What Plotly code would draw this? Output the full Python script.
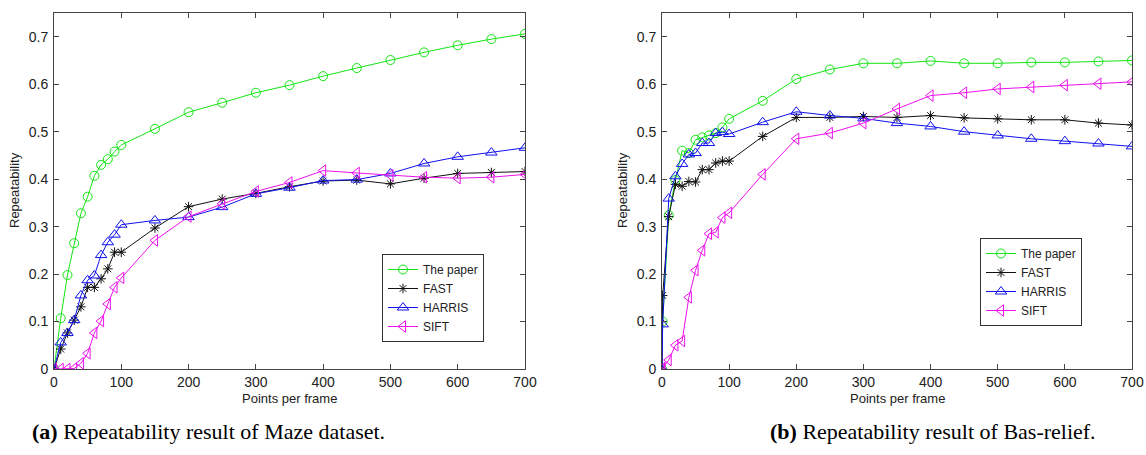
import plotly.graph_objects as go

# ---------------- data ----------------
x_maze = [0, 10, 20, 30, 40, 50, 60, 70, 80, 90, 100, 150, 200, 250, 300, 350,
          400, 450, 500, 550, 600, 650, 700]
maze_paper = [0, 0.107, 0.198, 0.265, 0.328, 0.363, 0.407, 0.430, 0.442, 0.458, 0.472,
              0.506, 0.541, 0.561, 0.582, 0.598, 0.617, 0.634, 0.651, 0.667, 0.682, 0.695, 0.706]
maze_fast = [0, 0.042, 0.076, 0.103, 0.131, 0.172, 0.172, 0.190, 0.211, 0.246, 0.246,
             0.297, 0.342, 0.358, 0.370, 0.384, 0.396, 0.398, 0.390, 0.402, 0.412, 0.414, 0.416]
maze_harris = [0, 0.056, 0.076, 0.103, 0.155, 0.187, 0.197, 0.240, 0.267, 0.283, 0.304,
               0.313, 0.320, 0.341, 0.369, 0.382, 0.397, 0.399, 0.412, 0.433, 0.447, 0.456, 0.466]
maze_sift = [0, 0, 0, 0.001, 0.012, 0.033, 0.076, 0.101, 0.137, 0.172, 0.192,
             0.271, 0.321, 0.348, 0.374, 0.393, 0.418, 0.413, 0.408, 0.404, 0.402, 0.404, 0.410]

x_bas = [0, 1, 10, 20, 30, 40, 50, 60, 70, 80, 90, 100, 150, 200, 250, 300, 350,
         400, 450, 500, 550, 600, 650, 700]
bas_paper = [0, 0.10, 0.324, 0.398, 0.460, 0.455, 0.483, 0.488, 0.492, 0.497, 0.509, 0.527,
             0.565, 0.611, 0.631, 0.644, 0.644, 0.649, 0.644, 0.644, 0.646, 0.646, 0.648, 0.650]
bas_fast = [0, 0.155, 0.321, 0.389, 0.385, 0.395, 0.394, 0.420, 0.420, 0.434, 0.438, 0.438,
            0.490, 0.530, 0.530, 0.532, 0.530, 0.534, 0.529, 0.527, 0.525, 0.525, 0.518, 0.514]
bas_harris = [0, 0.094, 0.359, 0.406, 0.432, 0.452, 0.455, 0.476, 0.476, 0.497, 0.499, 0.495,
              0.520, 0.542, 0.534, 0.528, 0.518, 0.511, 0.500, 0.492, 0.485, 0.480, 0.475, 0.469]
bas_sift = [0, 0.002, 0.019, 0.050, 0.059, 0.151, 0.208, 0.250, 0.285, 0.288, 0.319, 0.329,
            0.410, 0.485, 0.497, 0.518, 0.548, 0.576, 0.582, 0.590, 0.594, 0.598, 0.601, 0.605]

series_names = ["The paper", "FAST", "HARRIS", "SIFT"]
x_ticks = [0, 100, 200, 300, 400, 500, 600, 700]
y_ticks = [0, 0.1, 0.2, 0.3, 0.4, 0.5, 0.6, 0.7]
y_tick_text = ["0", "0.1", "0.2", "0.3", "0.4", "0.5", "0.6", "0.7"]
captions = ["<b>(a)</b> Repeatability result of Maze dataset.",
            "<b>(b)</b> Repeatability result of Bas-relief."]

# ---------------- styles ----------------
colors = ["#14e614", "#111111", "#1010ee", "#ee10ee"]
symbols = ["circle-open", "asterisk-open", "triangle-up-open", "triangle-left-open"]
msize = [9, 8, 10, 10]

fig = go.Figure()

panels = [
    (x_maze, [maze_paper, maze_fast, maze_harris, maze_sift], "x", "y", "legend"),
    (x_bas, [bas_paper, bas_fast, bas_harris, bas_sift], "x2", "y2", "legend2"),
]
for xs, ys_list, xa, ya, lg in panels:
    for i, ys in enumerate(ys_list):
        fig.add_trace(go.Scatter(
            x=xs, y=ys, mode="lines+markers", name=series_names[i],
            line=dict(color=colors[i], width=1),
            marker=dict(symbol=symbols[i], size=msize[i], color=colors[i],
                        line=dict(width=1, color=colors[i])),
            xaxis=xa, yaxis=ya, legend=lg,
        ))

# page body margin is removed by the post script: figure placed at (0, 0)
W, H = 1146, 455


def px(X):
    return X / W


def py(Y):
    return (H - Y) / H


SANS = "Liberation Sans, Arial, sans-serif"
font_ax = dict(family=SANS, size=14, color="#222222")

axis_common = dict(
    showgrid=False, zeroline=False, showline=True, linecolor="#444444", linewidth=1,
    mirror="ticks", ticks="inside", ticklen=5, tickcolor="#444444", tickwidth=1,
    tickfont=font_ax, automargin=False,
)

left_dom = [px(54), px(525)]
right_dom = [px(662), px(1132)]
y_dom = [py(369), py(13)]

leg_font = dict(family=SANS, size=12, color="#222222")
fig.update_layout(
    width=W, height=H, margin=dict(l=0, r=0, t=0, b=0),
    paper_bgcolor="white", plot_bgcolor="white",
    xaxis=dict(domain=left_dom, range=[0, 700], tickvals=x_ticks, anchor="y", **axis_common),
    yaxis=dict(domain=y_dom, range=[0, 0.75], tickvals=y_ticks, ticktext=y_tick_text,
               anchor="x", ticklabelstandoff=2, **axis_common),
    xaxis2=dict(domain=right_dom, range=[0, 700], tickvals=x_ticks, anchor="y2", **axis_common),
    yaxis2=dict(domain=y_dom, range=[0, 0.75], tickvals=y_ticks, ticktext=y_tick_text,
                anchor="x2", ticklabelstandoff=2, **axis_common),
    legend=dict(x=px(382), y=py(254), xanchor="left", yanchor="top",
                bgcolor="white", bordercolor="#333333", borderwidth=1,
                entrywidth=75, font=leg_font),
    legend2=dict(x=px(980), y=py(238), xanchor="left", yanchor="top",
                 bgcolor="white", bordercolor="#333333", borderwidth=1,
                 entrywidth=75, font=leg_font),
    showlegend=True,
)

ann = []
for cx, axis_x in [((54 + 525) / 2, 15), ((662 + 1132) / 2, 623)]:
    ann.append(dict(text="Points per frame", x=px(cx), y=py(398), xref="paper", yref="paper",
                    showarrow=False, font=dict(family=SANS, size=13, color="#222222"),
                    xanchor="center", yanchor="middle"))
    ann.append(dict(text="Repeatability", x=px(axis_x), y=py(190), xref="paper", yref="paper",
                    showarrow=False, textangle=-90,
                    font=dict(family=SANS, size=13, color="#222222"),
                    xanchor="center", yanchor="middle"))
cap_font = dict(family="Liberation Serif, Times New Roman, serif", size=22, color="#000000")
ann.append(dict(text=captions[0], x=px(208), y=py(431), xref="paper", yref="paper",
                showarrow=False, font=cap_font, xanchor="center", yanchor="middle"))
ann.append(dict(text=captions[1], x=px(933), y=py(431), xref="paper", yref="paper",
                showarrow=False, font=cap_font, xanchor="center", yanchor="middle"))
fig.update_layout(annotations=ann)

fig.write_html(
    "out.html",
    config={"displayModeBar": False},
    post_script="document.body.style.margin='0px';document.body.style.overflow='hidden';",
)
